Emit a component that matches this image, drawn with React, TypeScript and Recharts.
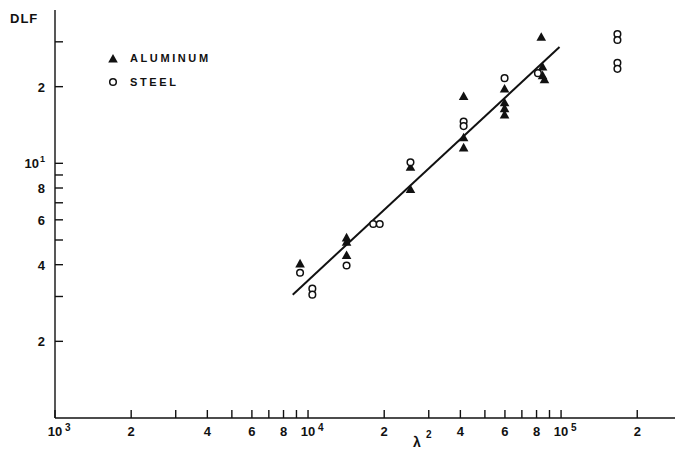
import React from "react";
import { ScatterChart, Scatter, XAxis, YAxis, Legend } from "recharts";

// λ² and DLF readings for each material
const aluminumLambda2 = [
  9300, 14200, 14200, 14200, 25400, 25400, 41200, 41200, 41200, 59800, 59800,
  59800, 59800, 83500, 84500, 84500, 86000,
];
const aluminumDlf = [
  4.03, 5.1, 4.9, 4.35, 9.65, 7.9, 18.3, 12.6, 11.5, 19.6, 17.3, 16.4, 15.5,
  31.3, 23.9, 22.1, 21.3,
];

const steelLambda2 = [
  9300, 10400, 10400, 14200, 18100, 19200, 25400, 41200, 41200, 59800, 81000,
  167000, 167000, 167000, 167000,
];
const steelDlf = [
  3.72, 3.22, 3.05, 3.97, 5.78, 5.78, 10.1, 14.6, 14.0, 21.6, 22.6, 32.2, 30.5,
  24.8, 23.5,
];

// fitted line end points
const fitLambda2 = [8700, 98600];
const fitDlf = [3.05, 28.6];

const xTicks = [
  1000, 2000, 3000, 4000, 5000, 6000, 7000, 8000, 9000, 10000, 20000, 30000,
  40000, 50000, 60000, 70000, 80000, 90000, 100000, 200000,
];
const xTickLabels = [
  "10^3", "2", "", "4", "", "6", "", "8", "", "10^4", "2", "", "4", "", "6",
  "", "8", "", "10^5", "2",
];
const yTicks = [2, 3, 4, 5, 6, 7, 8, 9, 10, 20, 30];
const yTickLabels = ["2", "", "4", "", "6", "", "8", "", "10^1", "2", ""];

const FONT = "'Liberation Sans', Arial, sans-serif";
const INK = "#111";

const toPoints = (xs: number[], ys: number[]) =>
  xs.map((x, i) => ({ lambda2: x, dlf: ys[i] }));

const aluminumData = toPoints(aluminumLambda2, aluminumDlf);
const steelData = toPoints(steelLambda2, steelDlf);
const fitData = toPoints(fitLambda2, fitDlf);

const Triangle = ({ cx, cy }: any) => (
  <polygon
    points={`${cx},${cy - 5} ${cx - 4.8},${cy + 3.6} ${cx + 4.8},${cy + 3.6}`}
    fill={INK}
  />
);

const Ring = ({ cx, cy }: any) => (
  <circle cx={cx} cy={cy} r={3.3} fill="#fff" stroke={INK} strokeWidth={1.5} />
);

const XTick = ({ x, y, payload }: any) => {
  const label = xTickLabels[xTicks.indexOf(payload.value)] ?? "";
  const [base, sup] = label.split("^");
  return (
    <g>
      <line x1={x} x2={x} y1={y} y2={y - 8} stroke={INK} strokeWidth={1.4} />
      {base && (
        <text
          x={x}
          y={y + 18}
          textAnchor="middle"
          fontFamily={FONT}
          fontWeight="bold"
          fontSize={13}
          fill={INK}
        >
          {base}
        </text>
      )}
      {sup && (
        <text
          x={x + 10}
          y={y + 13}
          fontFamily={FONT}
          fontWeight="bold"
          fontSize={10}
          fill={INK}
        >
          {sup}
        </text>
      )}
    </g>
  );
};

const YTick = ({ x, y, payload }: any) => {
  const label = yTickLabels[yTicks.indexOf(payload.value)] ?? "";
  const [base, sup] = label.split("^");
  return (
    <g>
      <line x1={x} x2={x + 8} y1={y} y2={y} stroke={INK} strokeWidth={1.4} />
      {base && (
        <text
          x={sup ? x - 16 : x - 10}
          y={y + 5}
          textAnchor="end"
          fontFamily={FONT}
          fontWeight="bold"
          fontSize={13}
          fill={INK}
        >
          {base}
        </text>
      )}
      {sup && (
        <text
          x={x - 15}
          y={y - 1}
          fontFamily={FONT}
          fontWeight="bold"
          fontSize={9}
          fill={INK}
        >
          {sup}
        </text>
      )}
    </g>
  );
};

const LegendBox = ({ payload }: any) => (
  <div style={{ fontFamily: FONT, fontWeight: "bold", fontSize: 11, color: INK }}>
    {(payload || [])
      .filter((p: any) => p.type !== "none")
      .map((p: any) => (
        <div
          key={p.value}
          style={{ display: "flex", alignItems: "center", height: 24 }}
        >
          <svg width={14} height={14} style={{ marginRight: 10 }}>
            {p.value === "ALUMINUM" ? (
              <Triangle cx={7} cy={8} />
            ) : (
              <Ring cx={7} cy={7} />
            )}
          </svg>
          <span style={{ letterSpacing: 2.6 }}>{p.value}</span>
        </div>
      ))}
  </div>
);

export default function App() {
  return (
    <div style={{ position: "absolute", left: 0, top: 0, background: "#fff" }}>
      <ScatterChart
        width={676}
        height={451}
        margin={{ top: 10, right: 1, bottom: 0, left: 0 }}
      >
        <XAxis
          type="number"
          dataKey="lambda2"
          scale="log"
          domain={[1000, 282000]}
          ticks={xTicks}
          interval={0}
          allowDataOverflow
          height={33}
          tickSize={0}
          tickMargin={0}
          tickLine={false}
          tick={<XTick />}
          axisLine={{ stroke: INK, strokeWidth: 1.4 }}
          label={{
            content: () => (
              <g fill={INK} fontFamily={FONT} fontWeight="bold">
                <text x={413} y={447} fontSize={14}>
                  λ
                </text>
                <text x={426} y={438} fontSize={10}>
                  2
                </text>
              </g>
            ),
          }}
        />
        <YAxis
          type="number"
          dataKey="dlf"
          scale="log"
          domain={[1, 40]}
          ticks={yTicks}
          interval={0}
          allowDataOverflow
          width={55}
          tickSize={0}
          tickMargin={0}
          tickLine={false}
          tick={<YTick />}
          axisLine={{ stroke: INK, strokeWidth: 1.4 }}
          label={{
            content: () => (
              <text
                x={10}
                y={23}
                fontFamily={FONT}
                fontWeight="bold"
                fontSize={13}
                letterSpacing={1}
                fill={INK}
              >
                DLF
              </text>
            ),
          }}
        />
        <Legend
          layout="vertical"
          align="center"
          verticalAlign="middle"
          content={<LegendBox />}
          wrapperStyle={{ left: 106, top: 46, width: "auto" }}
        />
        <Scatter
          name="fit"
          data={fitData}
          line={{ stroke: INK, strokeWidth: 2 }}
          shape={() => <g />}
          legendType="none"
          isAnimationActive={false}
        />
        <Scatter
          name="ALUMINUM"
          data={aluminumData}
          shape={<Triangle />}
          isAnimationActive={false}
        />
        <Scatter
          name="STEEL"
          data={steelData}
          shape={<Ring />}
          isAnimationActive={false}
        />
      </ScatterChart>
    </div>
  );
}
